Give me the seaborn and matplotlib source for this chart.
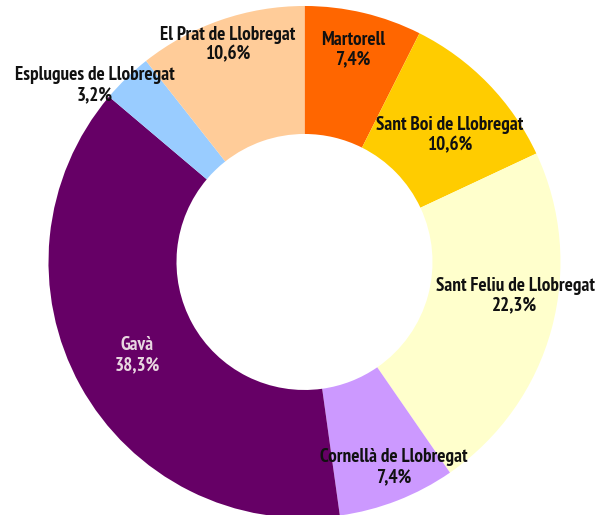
import matplotlib
matplotlib.use("Agg")
import numpy as np
import matplotlib.pyplot as plt
import seaborn as sns

# municipalities, clockwise from 12 o'clock
municipis = [
    "Martorell",
    "Sant Boi de Llobregat",
    "Sant Feliu de Llobregat",
    "Cornellà de Llobregat",
    "Gavà",
    "Esplugues de Llobregat",
    "El Prat de Llobregat",
]
percentatges = [7.4, 10.6, 22.3, 7.4, 38.3, 3.2, 10.6]
colors = ["#FF6600", "#FFCC00", "#FFFFCC", "#CC99FF", "#660066", "#99CCFF", "#FFCC99"]
text_colors = ["#111111", "#111111", "#111111", "#111111", "#E8D6E0", "#111111", "#111111"]
# label placement: radius and angle shift (deg) from the wedge middle
label_radius = [0.85, 0.754, 0.833, 0.874, 0.748, 1.07, 0.899]
label_shift = [0.4, -3.1, 6.0, 2.3, 0.2, 5.8, 0.3]

sns.set_theme(style="white")
plt.rcParams["font.family"] = ["PT Sans Narrow", "Liberation Sans", "DejaVu Sans"]

fig = plt.figure(figsize=(5.95, 5.15), dpi=100)
ax = fig.add_axes([0.0815, -0.0058, 0.8605, 0.9942])

wedges, _ = ax.pie(
    percentatges,
    colors=colors,
    startangle=90,
    counterclock=False,
    radius=1.0,
    wedgeprops=dict(width=0.5, edgecolor="none", linewidth=0),
)

total = sum(percentatges)
cum = 0.0
for name, val, tc, r, sh in zip(municipis, percentatges, text_colors, label_radius, label_shift):
    mid = cum + val / 2
    cum += val
    ang = np.deg2rad(90 - 360 * mid / total + sh)
    ax.text(
        r * np.cos(ang), r * np.sin(ang),
        f"{name}\n{val:.1f}%".replace(".", ","),
        ha="center", va="center", fontsize=13.8, fontweight="bold",
        color=tc, linespacing=1.12,
    )

ax.set_xlim(-1, 1)
ax.set_ylim(-1, 1)
ax.set_aspect("equal")
ax.axis("off")

fig.savefig("out.png", dpi=100)
